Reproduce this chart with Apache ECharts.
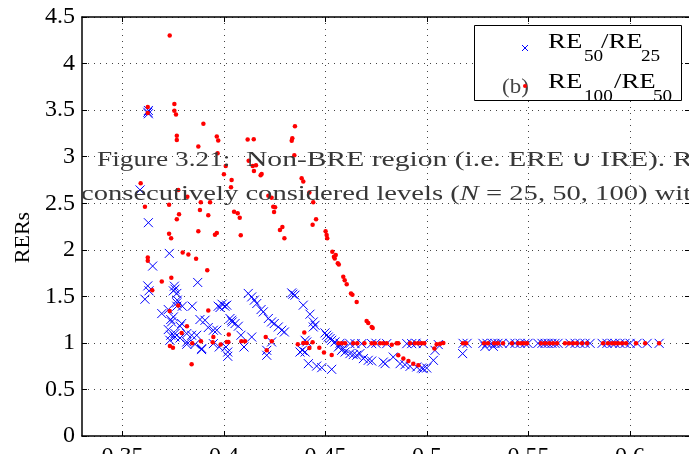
<!DOCTYPE html>
<html><head><meta charset="utf-8">
<script src="https://cdn.jsdelivr.net/npm/echarts@6/dist/echarts.min.js"></script>
<style>html,body{margin:0;padding:0;background:#fff}#c{width:689px;height:454px}</style>
</head><body><div id="c"></div>
<script>
const xTicks = [0.35, 0.4, 0.45, 0.5, 0.55, 0.6];
const yTicks = [0, 0.5, 1, 1.5, 2, 2.5, 3, 3.5, 4, 4.5];
const seriesNames = ['RE50/RE25', 'RE100/RE50'];

// RE50/RE25 (blue x)
const re50_25 = [
[0.3627,3.496],[0.3627,3.461],[0.3624,3.477],[0.3586,2.643],[0.3627,2.291],[0.3730,1.961],[0.3648,1.825],[0.3870,1.649],
[0.3624,1.612],[0.3630,1.559],[0.3610,1.469],[0.3755,1.609],[0.3758,1.577],[0.3750,1.559],[0.3767,1.531],[0.3769,1.459],
[0.3767,1.430],[0.3767,1.394],[0.3693,1.315],[0.3725,1.358],[0.3737,1.251],[0.3794,1.394],[0.3843,1.394],[0.3971,1.394],
[0.3980,1.380],[0.4004,1.394],[0.3990,1.415],[0.3881,1.251],[0.3906,1.243],[0.3922,1.165],[0.3947,1.136],[0.3964,1.136],
[0.4037,1.243],[0.4054,1.208],[0.4070,1.179],[0.3725,1.143],[0.3737,1.082],[0.3758,1.100],[0.3783,1.179],[0.3816,1.100],
[0.3865,1.082],[0.3733,1.028],[0.3783,1.053],[0.3816,0.985],[0.3857,0.985],[0.3890,0.939],[0.3947,0.992],[0.3976,0.956],
[0.4009,0.956],[0.4018,0.902],[0.4018,0.856],[0.4083,1.082],[0.4136,1.063],[0.4098,0.956],[0.4210,0.920],[0.4210,0.867],
[0.4234,1.010],[0.3741,1.225],[0.3750,1.279],[0.3758,1.063],[0.3791,1.208],[0.3816,1.010],[0.3840,1.082],[0.3889,0.928],
[0.4119,1.531],[0.4136,1.494],[0.4149,1.459],[0.4161,1.423],[0.4182,1.358],[0.4193,1.333],[0.4218,1.262],[0.4234,1.225],
[0.4247,1.208],[0.4267,1.171],[0.4284,1.136],[0.4297,1.117],[0.4029,1.262],[0.4040,1.225],[0.4013,1.405],
[0.4333,1.537],[0.4339,1.523],[0.4349,1.512],[0.4390,1.405],[0.4423,1.308],[0.4439,1.225],[0.4448,1.189],[0.4439,1.171],
[0.4399,1.028],[0.4407,1.010],[0.4385,0.920],[0.4374,0.902],[0.4399,0.902],[0.4415,0.777],[0.4456,0.751],[0.4481,0.734],
[0.4530,0.716],[0.4497,1.107],[0.4505,1.082],[0.4513,1.063],[0.4522,1.046],[0.4530,1.028],[0.4546,1.010],[0.4563,0.956],
[0.4571,0.974],[0.4579,0.920],[0.4587,0.939],[0.4596,0.902],[0.4620,0.885],[0.4636,0.874],[0.4653,0.867],[0.4669,0.885],
[0.4686,0.831],[0.4710,0.813],[0.4727,0.805],[0.4784,0.794],[0.4793,0.777],[0.4833,0.848],[0.4867,0.777],[0.4891,0.766],
[0.4916,0.748],[0.4949,0.741],[0.4973,0.730],[0.4998,0.730],[0.4981,0.723],[0.5031,0.813],[0.5039,0.920],[0.5055,0.982],
[0.4727,0.992],[0.4801,0.992],[0.4900,0.992],[0.4924,0.992],[0.4981,0.992],[0.4620,0.992],[0.4645,0.992],[0.4678,0.992],
[0.4571,0.996],[0.4748,0.996],[0.4945,0.996],
[0.5177,0.995],[0.5197,0.995],[0.5275,0.995],[0.5295,0.995],[0.5320,0.995],[0.5334,0.995],[0.5349,0.995],[0.5369,0.995],
[0.5408,0.995],[0.5433,0.995],[0.5458,0.995],[0.5482,0.995],[0.5497,0.995],[0.5546,0.995],[0.5566,0.995],[0.5581,0.995],
[0.5596,0.995],[0.5615,0.995],[0.5630,0.995],[0.5645,0.995],[0.5704,0.995],[0.5729,0.995],[0.5753,0.995],[0.5778,0.995],
[0.5803,0.995],[0.5862,0.995],[0.5886,0.995],[0.5911,0.995],[0.5926,0.995],[0.5950,0.995],[0.5975,0.995],[0.6000,0.995],
[0.6034,0.995],[0.6084,0.995],[0.6143,0.995],[0.5285,0.963],[0.5326,0.963],[0.5175,0.885]
];

// RE100/RE50 (red dots)
const re100_50 = [
[0.3732,4.300],[0.3755,3.565],[0.3755,3.493],[0.3763,3.453],[0.3624,3.533],[0.3624,3.468],[0.3898,3.353],[0.3767,3.224],
[0.3767,3.178],[0.3964,3.216],[0.3971,3.173],[0.3873,3.109],[0.4116,3.184],[0.4146,3.188],[0.4349,3.328],[0.4336,3.199],
[0.4333,3.170],[0.4346,3.016],[0.3968,3.038],[0.4008,2.901],[0.4121,2.955],[0.4141,2.901],[0.4157,2.908],[0.3999,2.812],
[0.4147,2.847],[0.4185,2.815],[0.4180,2.801],[0.4037,2.750],[0.4034,2.672],[0.4382,2.769],[0.4390,2.732],[0.3589,2.715],
[0.3774,2.643],[0.3819,2.570],[0.3729,2.484],[0.3885,2.510],[0.3931,2.510],[0.4218,2.581],[0.4234,2.560],[0.4420,2.614],
[0.4439,2.510],[0.4242,2.463],[0.4251,2.456],[0.4246,2.406],[0.3881,2.427],[0.3610,2.463],[0.3778,2.381],[0.3767,2.327],
[0.3922,2.370],[0.4049,2.409],[0.4067,2.392],[0.4077,2.344],[0.4453,2.327],[0.4436,2.269],[0.4287,2.244],[0.4275,2.212],
[0.4297,2.123],[0.3873,2.198],[0.3729,2.172],[0.3739,2.123],[0.3964,2.180],[0.3955,2.161],[0.4082,2.155],[0.4500,2.198],
[0.4505,2.158],[0.4508,2.123],
[0.4533,1.978],[0.4541,1.925],[0.4550,1.943],[0.4545,1.907],[0.4560,1.854],[0.4565,1.843],[0.4587,1.709],[0.4594,1.674],
[0.4604,1.631],[0.4625,1.531],[0.4632,1.516],[0.4653,1.440],[0.4702,1.236],[0.4710,1.214],[0.4727,1.171],[0.4732,1.160],
[0.3624,1.918],[0.3624,1.882],[0.3796,1.972],[0.3824,1.950],[0.3862,1.903],[0.3917,1.781],[0.3740,1.699],[0.3693,1.660],
[0.3646,1.566],[0.3732,1.343],[0.3774,1.401],[0.3922,1.348],[0.3817,1.179],[0.3791,1.107],[0.3886,1.017],[0.3733,0.967],
[0.3748,0.949],[0.3843,0.996],[0.3947,1.063],[0.3944,1.006],[0.3983,0.982],[0.4023,1.089],[0.4021,1.010],[0.4013,1.010],
[0.3840,0.770],[0.4085,1.017],[0.4103,1.017],[0.4205,1.063],[0.4235,1.017],[0.4210,0.920],[0.4395,1.111],[0.4363,0.985],
[0.4390,0.999],[0.4407,0.999],[0.4420,0.945],[0.4436,1.006],[0.4469,0.949],[0.4492,0.896],[0.4530,0.870],
[0.4563,0.995],[0.4579,0.995],[0.4596,0.995],[0.4636,0.995],[0.4656,0.995],[0.4691,0.995],[0.4727,0.995],[0.4743,0.995],
[0.4768,0.995],[0.4784,0.995],[0.4801,0.995],[0.4826,0.980],[0.4850,0.995],[0.4858,0.995],[0.4916,0.995],[0.4940,0.995],
[0.4957,0.995],[0.4973,0.995],[0.4986,0.995],[0.5036,0.940],[0.5047,0.985],[0.5064,0.992],[0.5080,0.998],
[0.4858,0.866],[0.4883,0.831],[0.4908,0.805],[0.4932,0.777],[0.4957,0.759],
[0.5177,0.995],[0.5192,0.995],[0.5280,0.995],[0.5300,0.995],[0.5330,0.995],[0.5349,0.995],[0.5374,0.995],[0.5418,0.995],
[0.5448,0.995],[0.5463,0.995],[0.5477,0.995],[0.5492,0.995],[0.5561,0.995],[0.5581,0.995],[0.5601,0.995],[0.5620,0.995],
[0.5640,0.995],[0.5679,0.995],[0.5699,0.995],[0.5719,0.995],[0.5738,0.995],[0.5763,0.995],[0.5788,0.995],[0.5867,0.995],
[0.5891,0.995],[0.5911,0.995],[0.5926,0.995],[0.5941,0.995],[0.5960,0.995],[0.5980,0.995],[0.6029,0.995],[0.6074,0.995],
[0.6143,0.995]
];

const FONT = 'Liberation Serif';
const chart = echarts.init(document.getElementById('c'), null, {renderer: 'canvas'});
const gridLine = {show: true, lineStyle: {color: '#444', type: [1, 5], width: 1}};
const tickIn = {show: true, inside: true, length: 5, lineStyle: {color: '#000', width: 1}};
const axLine = {show: true, onZero: false, lineStyle: {color: '#000', width: 1.5}};
const XMIN = 0.33, XMAX = 0.6295;

function txt(x, y, s, size, sx, color) {
  return {type: 'text', x: x, y: y, scaleX: sx, scaleY: 1, z: 100,
    style: {text: s, x: 0, y: 0, font: size + 'px "Liberation Serif"', fill: color || '#000',
      align: 'left', verticalAlign: 'middle'}};
}

const option = {
  animation: false,
  backgroundColor: '#fff',
  grid: {left: 82, right: -1, top: 17, bottom: 18, containLabel: false, outerBoundsMode: 'none'},
  xAxis: [
    {type: 'value', min: XMIN, max: XMAX, position: 'bottom',
      axisLine: axLine,
      axisTick: Object.assign({customValues: xTicks}, tickIn),
      axisLabel: {customValues: xTicks, fontFamily: FONT, fontSize: 24, color: '#000', margin: 9},
      splitLine: gridLine},
    {type: 'value', min: XMIN, max: XMAX, position: 'top',
      axisLine: axLine,
      axisTick: Object.assign({customValues: xTicks}, tickIn),
      axisLabel: {show: false}, splitLine: {show: false}}
  ],
  yAxis: [
    {type: 'value', min: 0, max: 4.5, interval: 0.5, position: 'left',
      name: 'RERs', nameLocation: 'middle', nameGap: 48,
      nameTextStyle: {fontFamily: FONT, fontSize: 22, color: '#000', padding: [0, 22, 0, 0]},
      axisLine: axLine, axisTick: tickIn,
      axisLabel: {fontFamily: FONT, fontSize: 24, color: '#000', margin: 7},
      splitLine: gridLine},
    {type: 'value', min: 0, max: 4.5, interval: 0.5, position: 'right',
      axisLine: axLine, axisTick: tickIn,
      axisLabel: {show: false}, splitLine: {show: false}}
  ],
  series: [
    {name: seriesNames[0], type: 'scatter', data: re50_25, xAxisIndex: 0, yAxisIndex: 0,
      symbol: 'path://M0,0L10,10M10,0L0,10', symbolSize: 9, silent: true,
      itemStyle: {color: 'rgba(0,0,0,0)', borderColor: '#0000ff', borderWidth: 1, opacity: 1}, z: 2},
    {name: seriesNames[1], type: 'scatter', data: re100_50, xAxisIndex: 0, yAxisIndex: 0,
      symbol: 'circle', symbolSize: 4.5, silent: true,
      itemStyle: {color: '#ff0000', opacity: 1}, z: 3}
  ],
  graphic: [
    // overlay caption text from the page
    txt(97, 160.5, 'Figure 3.21:', 22, 1.24, '#383838'),
    txt(246, 160.5, 'Non-BRE region (i.e. ERE \u222A IRE). R', 22, 1.345, '#383838'),
    {type: 'text', x: 81, y: 194.5, scaleX: 1.3, z: 100,
      style: {text: '{r|consecutively considered levels (}{i|N}{r| = 25, 50, 100) wit}', x: 0, y: 0,
        align: 'left', verticalAlign: 'middle',
        rich: {r: {fontFamily: FONT, fontSize: 22, fill: '#383838'},
               i: {fontFamily: FONT, fontSize: 22, fontStyle: 'italic', fill: '#383838'}}}},
    // legend box
    {type: 'rect', z: 90, shape: {x: 474.5, y: 25.5, width: 207, height: 75},
      style: {fill: '#fff', stroke: '#000', lineWidth: 1}},
    {type: 'line', z: 101, shape: {x1: 522, y1: 45, x2: 528, y2: 51}, style: {stroke: '#0000ff', lineWidth: 1}},
    {type: 'line', z: 101, shape: {x1: 528, y1: 45, x2: 522, y2: 51}, style: {stroke: '#0000ff', lineWidth: 1}},
    {type: 'circle', z: 101, shape: {cx: 525, cy: 86, r: 2}, style: {fill: '#ff0000'}},
    txt(548, 42, 'RE', 22, 1.22), txt(584, 57, '50', 16, 1.2), txt(601, 42, '/RE', 22, 1.22), txt(641, 57, '25', 16, 1.2),
    txt(548, 82.5, 'RE', 22, 1.22), txt(584, 96.5, '100', 16, 1.2), txt(614, 82.5, '/RE', 22, 1.22), txt(653, 96.5, '50', 16, 1.2),
    txt(502, 88, '(b)', 20, 1.15, '#444')
  ]
};
chart.setOption(option);
</script>
</body></html>
